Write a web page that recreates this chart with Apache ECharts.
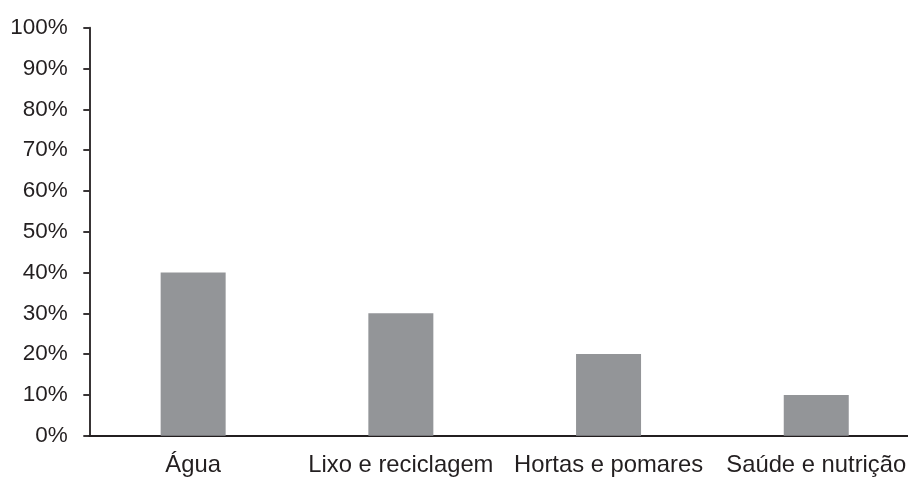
<!DOCTYPE html>
<html>
<head>
<meta charset="utf-8">
<style>
  html, body { margin: 0; padding: 0; background: #ffffff; }
  #chart { width: 908px; height: 477px; }
</style>
<script src="https://cdn.jsdelivr.net/npm/echarts@6/dist/echarts.min.js"></script>
</head>
<body>
<div id="chart"></div>
<script>
// Themes and their share (%)
const categories = ['Água', 'Lixo e reciclagem', 'Hortas e pomares', 'Saúde e nutrição'];
const shares = [40, 30, 20, 10];
const yTicks = { min: 0, max: 100, step: 10 };

const ink = '#231f20';
const chart = echarts.init(document.getElementById('chart'), null, { renderer: 'canvas' });

chart.setOption({
  animation: false,
  backgroundColor: '#ffffff',
  // the plot area runs a little past the right edge of the canvas
  grid: { left: 89.3, width: 830.8, top: 27.7, height: 408, containLabel: false, outerBoundsMode: 'none' },
  xAxis: {
    type: 'category',
    data: categories,
    axisLine: { lineStyle: { color: ink, width: 1.8 } },
    axisTick: { show: false },
    axisLabel: {
      color: ink,
      fontFamily: 'Liberation Sans, Arial, sans-serif',
      fontSize: 23.8,
      margin: 18,
      interval: 0
    }
  },
  yAxis: {
    type: 'value',
    min: yTicks.min,
    max: yTicks.max,
    interval: yTicks.step,
    splitLine: { show: false },
    axisLine: { show: true, lineStyle: { color: ink, width: 1.8 } },
    axisTick: { show: true, length: 6, lineStyle: { color: ink, width: 1.8 } },
    axisLabel: {
      color: ink,
      fontFamily: 'Liberation Sans, Arial, sans-serif',
      fontSize: 22.5,
      margin: 21.5,
      formatter: '{value}%'
    }
  },
  series: [{
    type: 'bar',
    data: shares,
    barWidth: 65,
    itemStyle: { color: '#939598' }
  }]
});
</script>
</body>
</html>
